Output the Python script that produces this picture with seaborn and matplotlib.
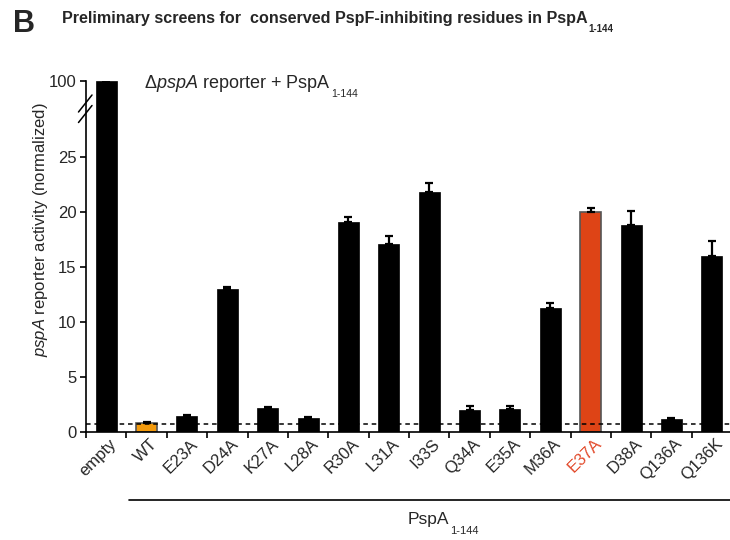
import numpy as np
import pandas as pd
import matplotlib
matplotlib.use("Agg")
import matplotlib.pyplot as plt
import matplotlib.transforms as mtransforms
import seaborn as sns

# ---- data ----
categories = ["empty", "WT", "E23A", "D24A", "K27A", "L28A", "R30A", "L31A",
              "I33S", "Q34A", "E35A", "M36A", "E37A", "D38A", "Q136A", "Q136K"]
means = [100.0, 0.85, 1.48, 13.0, 2.18, 1.3, 19.1, 17.1,
         21.8, 2.0, 2.09, 11.3, 20.0, 18.8, 1.18, 16.0]
errors = [0.0, 0.09, 0.09, 0.15, 0.09, 0.07, 0.4, 0.75,
          0.85, 0.36, 0.27, 0.42, 0.37, 1.3, 0.05, 1.35]
baseline = 0.75
yticks = [0, 5, 10, 15, 20, 25, 100]

sns.set_theme(style="ticks")
plt.rcParams["font.family"] = ["Liberation Sans", "DejaVu Sans"]
plt.rcParams["mathtext.fontset"] = "custom"
plt.rcParams["mathtext.rm"] = "Liberation Sans"
plt.rcParams["mathtext.it"] = "Liberation Sans:italic"
plt.rcParams["mathtext.bf"] = "Liberation Sans:bold"

df = pd.DataFrame({"category": categories, "value": means})
colors = {c: "black" for c in categories}
colors["WT"] = "#F39A0C"
colors["E37A"] = "#DE4416"

fig = plt.figure(figsize=(7.3, 5.4), dpi=100)
ax = fig.add_axes([86 / 730, 1 - 432 / 540, 1 - 86 / 730, (432 - 81) / 540])

sns.barplot(data=df, x="category", y="value", hue="category", palette=colors,
            legend=False, width=0.52, errorbar=None, ax=ax, saturation=1)
for patch, cat in zip(ax.patches, categories):
    if cat in ("WT", "E37A"):
        patch.set_edgecolor("#555555")
        patch.set_linewidth(1.2)
    else:
        patch.set_edgecolor("black")
        patch.set_linewidth(0.5)

x = np.arange(len(categories))
ax.errorbar(x, means, yerr=[np.zeros(len(means)), errors], fmt="none",
            ecolor="black", elinewidth=1.6, capsize=3, capthick=1.6, zorder=3)

# broken (compressed) y scale above the break
B = 29.0
K = (31.9 - B) / (100.0 - B)


def fwd(y):
    y = np.asarray(y, dtype=float)
    return np.where(y <= B, y, B + (y - B) * K)


def inv(t):
    t = np.asarray(t, dtype=float)
    return np.where(t <= B, t, B + (t - B) / K)


ax.set_yscale("function", functions=(fwd, inv))
ax.set_ylim(0, 100)
ax.set_xlim(-0.5, 15.45)
ax.set_yticks(yticks)
ax.set_yticklabels([str(v) for v in yticks])
ax.minorticks_off()

ax.axhline(baseline, color="black", lw=1.1, ls=(0, (3, 2.5)), zorder=4)

# x ticks: labels at bar centers, tick marks at boundaries
ax.set_xticks(x)
ax.set_xticklabels(categories, rotation=45, ha="right", rotation_mode="anchor",
                   fontsize=12)
ax.tick_params(axis="x", which="major", length=0, pad=3)
ax.set_xticks(np.arange(-0.5, 15.0, 1.0), minor=True)
ax.tick_params(axis="x", which="minor", length=4, width=1.2, direction="out",
               color="black")
ax.tick_params(axis="y", length=4, width=1.2, labelsize=12, color="black", pad=3)
offset = mtransforms.ScaledTranslation(3 / 100, 0, fig.dpi_scale_trans)
for lbl in ax.get_xticklabels():
    lbl.set_transform(lbl.get_transform() + offset)
    if lbl.get_text() == "E37A":
        lbl.set_color("#E2492A")

ax.set_xlabel("")
ax.set_ylabel("")
sns.despine(ax=ax)
for s in ("left", "bottom"):
    ax.spines[s].set_linewidth(1.2)
    ax.spines[s].set_color("black")

# break marks on the y axis
for yc in (103.5, 114.0):
    yd = 1 - yc / 540
    fig.add_artist(plt.Line2D([78.5 / 730, 92 / 730], [yd - 8.5 / 540, yd + 8.5 / 540],
                              color="black", lw=1.1))

# y label
fig.text(41 / 730, 1 - 230 / 540, r"$\it{pspA}$ reporter activity (normalized)",
         rotation=90, ha="center", va="center", fontsize=12)

# title
fig.text(13 / 730, 1 - 32 / 540, "B", fontsize=22, fontweight="bold",
         ha="left", va="baseline")
t1 = fig.text(62 / 730, 1 - 23.5 / 540,
              "Preliminary screens for  conserved PspF-inhibiting residues in PspA",
              fontsize=11.6, fontweight="bold", ha="left", va="baseline")

# annotation inside plot
t2 = fig.text(144 / 730, 1 - 88 / 540, r"$\Delta\it{pspA}$ reporter + PspA",
              fontsize=13, ha="left", va="baseline")

# bottom bracket line + label
fig.add_artist(plt.Line2D([129 / 730, 1.0], [1 - 500 / 540, 1 - 500 / 540],
                          color="black", lw=1.2))
t3 = fig.text(408 / 730, 1 - 524 / 540, "PspA", fontsize=12.5,
              ha="left", va="baseline")

fig.canvas.draw()
r = fig.canvas.get_renderer()
inv_fig = fig.transFigure.inverted()
for t, dy, fs, fw in ((t1, 9, 7, "bold"), (t2, 9, 7.5, "normal"), (t3, 10, 8, "normal")):
    bb = t.get_window_extent(renderer=r)
    xr = inv_fig.transform((bb.x1 + 0.5, 0))[0]
    yb = t.get_position()[1] - dy / 540
    fig.text(xr, yb, "1-144", fontsize=fs, fontweight=fw, ha="left", va="baseline")

fig.savefig("out.png", dpi=100)
